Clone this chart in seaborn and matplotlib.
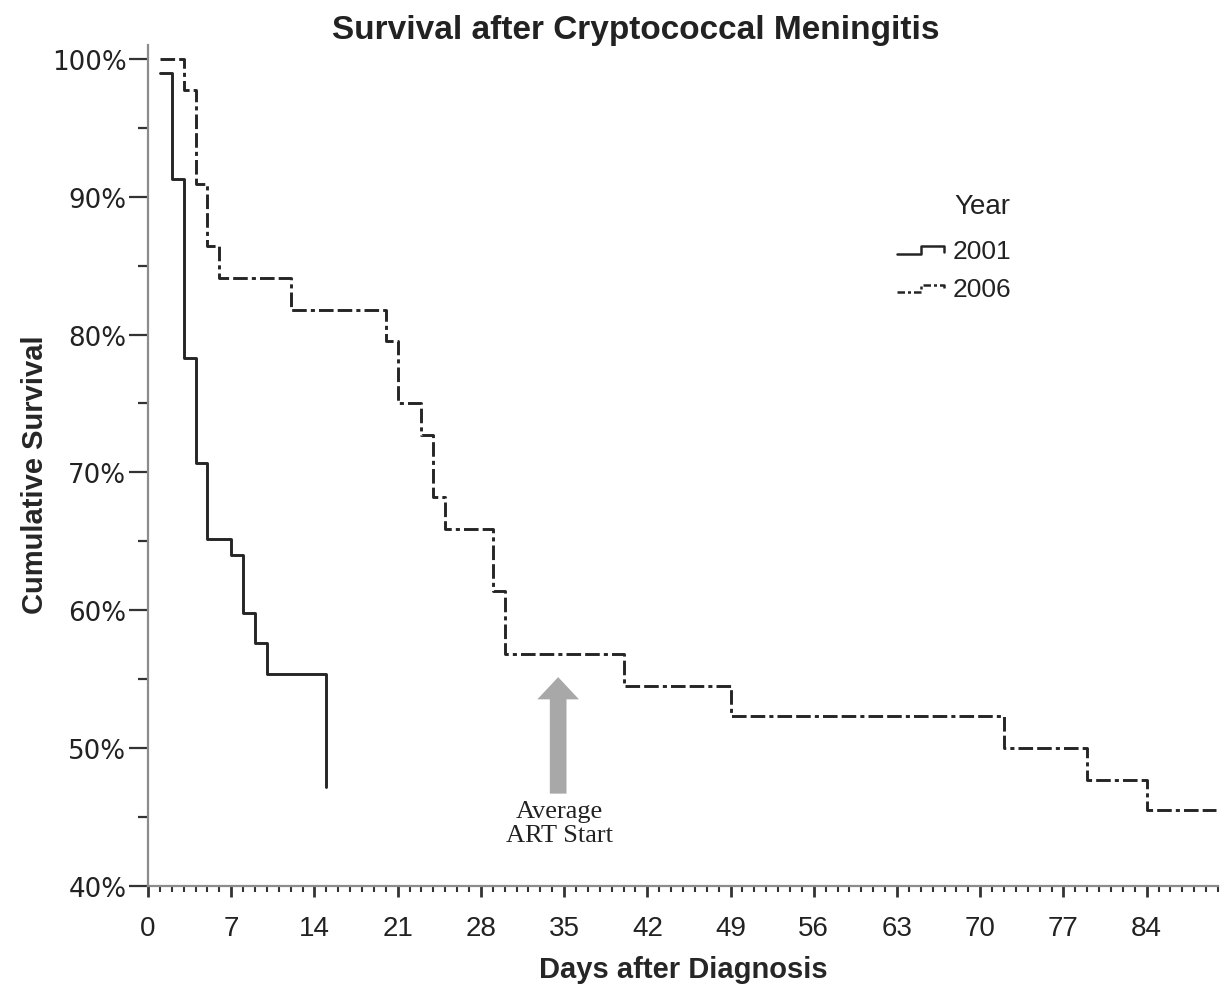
import numpy as np
import pandas as pd
import matplotlib
matplotlib.use("Agg")
import matplotlib.pyplot as plt
import seaborn as sns
from matplotlib.lines import Line2D
from matplotlib.legend_handler import HandlerBase

# ---------------- data ----------------
years = ["2001", "2006"]
days_2001 = [1, 2, 3, 4, 5, 7, 8, 9, 10, 15]
surv_2001 = [0.990, 0.913, 0.783, 0.707, 0.652, 0.640, 0.598, 0.576, 0.554, 0.472]
days_2006 = [1, 3, 4, 5, 6, 12, 20, 21, 23, 24, 25, 29, 30, 40, 49, 72, 79, 84, 89.8]
surv_2006 = [1.000, 0.977, 0.909, 0.864, 0.841, 0.818, 0.795, 0.750, 0.727, 0.682,
             0.659, 0.614, 0.568, 0.545, 0.523, 0.500, 0.477, 0.455, 0.455]
x_ticks = [0, 7, 14, 21, 28, 35, 42, 49, 56, 63, 70, 77, 84]
y_ticks = [0.4, 0.5, 0.6, 0.7, 0.8, 0.9, 1.0]
y_tick_labels = ["40%", "50%", "60%", "70%", "80%", "90%", "100%"]
title = "Survival after Cryptococcal Meningitis"
x_label = "Days after Diagnosis"
y_label = "Cumulative Survival"
legend_title = "Year"
art_day = 34.5
art_label = "Average\nART Start"

df = pd.concat([
    pd.DataFrame({"Day": days_2001, "Survival": surv_2001, "Year": years[0]}),
    pd.DataFrame({"Day": days_2006, "Survival": surv_2006, "Year": years[1]}),
], ignore_index=True)

# ---------------- style ----------------
sns.set_theme(style="ticks")
plt.rcParams["font.family"] = ["Liberation Sans", "DejaVu Sans"]
plt.rcParams["text.color"] = "#222222"

line_color = "#252525"
dash_2006 = (5, 1.4, 5, 1.4, 1.4, 1.4)

fig = plt.figure(figsize=(12.3, 9.95), dpi=100)
ax = fig.add_axes([148 / 1230, 1 - 887 / 995, 1070 / 1230, (887 - 46) / 995])

sns.lineplot(data=df, x="Day", y="Survival", hue="Year", style="Year",
             palette={years[0]: line_color, years[1]: line_color},
             dashes={years[0]: "", years[1]: dash_2006},
             drawstyle="steps-post", linewidth=2.1, estimator=None,
             legend=False, ax=ax)

ax.set_xlim(0, 90)
ax.set_ylim(0.40, 1.01)

ax.set_xticks(x_ticks)
ax.set_xticks(np.arange(0, 91, 1), minor=True)
ax.set_yticks(y_ticks)
ax.set_yticklabels(y_tick_labels)
ax.set_yticks(np.arange(0.45, 1.0, 0.1), minor=True)

tick_c = "#333333"
ax.tick_params(axis="x", which="major", length=8, width=2.0, pad=13,
               labelsize=20, color=tick_c, labelcolor="#222222")
ax.tick_params(axis="x", which="minor", length=4.3, width=1.5, color=tick_c)
ax.tick_params(axis="y", which="major", length=13.5, width=1.6, pad=2,
               labelsize=18.8, color=tick_c, labelcolor="#222222")
ax.tick_params(axis="y", which="minor", length=7, width=1.6, color=tick_c)
for lbl in ax.get_yticklabels():
    lbl.set_fontfamily("DejaVu Sans")

for s in ["top", "right"]:
    ax.spines[s].set_visible(False)
for s in ["left", "bottom"]:
    ax.spines[s].set_color("#8c8c8c")
    ax.spines[s].set_linewidth(1.6)

ax.set_xlabel(x_label, fontsize=21, fontweight="bold")
ax.set_ylabel(y_label, fontsize=21, fontweight="bold")
ax.xaxis.set_label_coords(0.5, -(956 - 887) / 841)
ax.yaxis.set_label_coords((49 - 148) / 1070, 0.49)

fig.text(636 / 1230, 1 - 30 / 995, title, ha="center", va="center",
         fontsize=24, fontweight="bold")

# arrow for average ART start
ax.annotate("", xy=(art_day, 0.5515), xytext=(art_day, 0.467),
            arrowprops=dict(arrowstyle="simple,head_length=1.6,head_width=3.0,tail_width=1.2",
                            fc="#a8a8a8", ec="none", mutation_scale=10,
                            shrinkA=0, shrinkB=0))
ax.text(art_day + 0.1, 0.4625, art_label, ha="center", va="top",
        fontsize=19, family="Liberation Serif", linespacing=1.1, color="#222222")

# legend with step-shaped handles
class StepHandler(HandlerBase):
    def create_artists(self, legend, orig_handle, xdescent, ydescent,
                       width, height, fontsize, trans):
        x0, y0 = -xdescent, -ydescent
        xs = [x0, x0 + 0.5 * width, x0 + 0.5 * width, x0 + width, x0 + width]
        ys = [y0 + 0.22 * height, y0 + 0.22 * height, y0 + 0.62 * height,
              y0 + 0.62 * height, y0 + 0.33 * height]
        ln = Line2D(xs, ys)
        ln.update_from(orig_handle)
        ln.set_transform(trans)
        return [ln]

handles = [Line2D([], [], color=line_color, lw=1.8),
           Line2D([], [], color=line_color, lw=1.8, dashes=(3, 1.2, 1.2, 1.2))]
leg = ax.legend(handles, years, title=legend_title, loc="upper right",
                bbox_to_anchor=(1024 / 1230, 1 - 181 / 995),
                bbox_transform=fig.transFigure, frameon=False,
                fontsize=19, title_fontsize=20, handlelength=1.8,
                handletextpad=0.3, labelspacing=0.55, borderpad=0,
                alignment="right",
                handler_map={Line2D: StepHandler()})
leg._legend_box.sep = 14

fig.savefig("out.png", dpi=100)
